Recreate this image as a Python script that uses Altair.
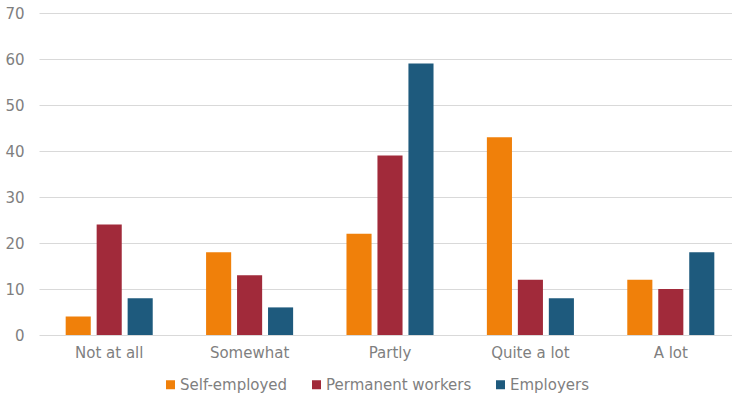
import altair as alt
import pandas as pd

# Share of respondents by answer, for each type of worker
categories = ["Not at all", "Somewhat", "Partly", "Quite a lot", "A lot"]
series = ["Self-employed", "Permanent workers", "Employers"]
self_employed = [4, 18, 22, 43, 12]
permanent_workers = [24, 13, 39, 12, 10]
employers = [8, 6, 59, 8, 18]
colors = ["#F0800A", "#A12A3A", "#1E5A7D"]
y_ticks = [0, 10, 20, 30, 40, 50, 60, 70]

rows = []
for name, vals in zip(series, [self_employed, permanent_workers, employers]):
    for cat, v in zip(categories, vals):
        rows.append({"category": cat, "series": name, "value": v})
df = pd.DataFrame(rows)

FONT = "DejaVu Sans"
GREY = "#7f7f7f"

chart = (
    alt.Chart(df)
    .mark_bar()
    .encode(
        x=alt.X(
            "category:N",
            sort=categories,
            scale=alt.Scale(range=[0, 702], paddingInner=0.38, paddingOuter=0.19),
            axis=alt.Axis(
                title=None,
                labelAngle=0,
                domain=False,
                ticks=False,
                labelPadding=10,
                labelFontSize=15,
                labelColor=GREY,
                labelFont=FONT,
            ),
        ),
        xOffset=alt.XOffset(
            "series:N",
            sort=series,
            scale=alt.Scale(paddingInner=0.19, paddingOuter=0),
        ),
        y=alt.Y(
            "value:Q",
            scale=alt.Scale(domain=[0, 70], nice=False),
            axis=alt.Axis(
                title=None,
                values=y_ticks,
                domain=False,
                ticks=False,
                tickSize=0,
                labelPadding=15,
                labelFontSize=15,
                labelColor=GREY,
                labelFont=FONT,
                gridColor="#d9d9d9",
                gridWidth=1,
            ),
        ),
        color=alt.Color(
            "series:N",
            sort=series,
            scale=alt.Scale(domain=series, range=colors),
            legend=alt.Legend(
                title=None,
                orient="none",
                direction="horizontal",
                legendX=124,
                legendY=364,
                symbolType="square",
                symbolSize=81,
                symbolStrokeWidth=0,
                labelFontSize=15,
                labelColor=GREY,
                labelFont=FONT,
                labelOffset=2,
                columnPadding=21,
            ),
        ),
    )
    .properties(
        width=693,
        height=322,
        autosize=alt.AutoSizeParams(type="none"),
        padding={"left": 39, "top": 13, "right": 0, "bottom": 61},
        background="white",
    )
    .configure_view(stroke=None)
)

chart.save("out.html", embed_options={"renderer": "svg", "actions": False})
